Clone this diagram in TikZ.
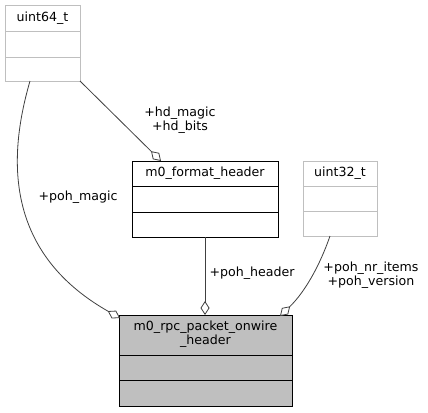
\documentclass[tikz,border=0pt]{standalone}
\usepackage{fontspec}
\setmainfont{DejaVu Sans}
\usetikzlibrary{arrows.meta}
\definecolor{edgec}{HTML}{404040}
\definecolor{lgray}{HTML}{BFBFBF}
\definecolor{mainfill}{HTML}{BFBFBF}
\begin{document}
\begin{tikzpicture}[x=1pt,y=-1pt,
  every node/.style={font=\fontsize{12.6}{14.2}\selectfont, inner sep=0pt},
  graybox/.style={draw=lgray, line width=0.9pt, fill=white, rectangle},
  blackbox/.style={draw=black, line width=0.9pt, fill=white, rectangle},
  mainbox/.style={draw=black, line width=0.9pt, fill=mainfill, rectangle},
  lbl/.style={align=center, text=black},
  agg/.style={draw=edgec, line width=0.8pt, -{Diamond[open, fill=white, length=14pt, width=9pt]}}
]
\useasboundingbox (0,0) rectangle (428,412);
\fill[white] (0,0) rectangle (428,412);

% uint64_t
\node[graybox, minimum width=75pt, minimum height=76pt] (u64) at (42.5,43) {};
\node (u64t) at (42.5,18) {uint64\_t};
\draw[lgray, line width=0.9pt] (5,31) -- (80,31) (5,57) -- (80,57);

% m0_format_header
\node[blackbox, minimum width=146pt, minimum height=76pt] (fmt) at (205,199) {};
\node (fmtt) at (205,173) {m0\_format\_header};
\draw[black, line width=0.9pt] (132,186) -- (278,186) (132,212) -- (278,212);

% uint32_t
\node[graybox, minimum width=74pt, minimum height=75pt] (u32) at (340,198.5) {};
\node (u32t) at (340,173) {uint32\_t};
\draw[lgray, line width=0.9pt] (303,186) -- (377,186) (303,211) -- (377,211);

% main
\node[mainbox, minimum width=173pt, minimum height=91pt] (main) at (205.5,360.5) {};
\node[align=center] (maint) at (205.5,334) {m0\_rpc\_packet\_onwire\\\_header};
\draw[black, line width=0.9pt] (119,355) -- (292,355) (119,380) -- (292,380);

% connector end points
\coordinate (a1) at (30,81);
\coordinate (a2) at (120,318);
\coordinate (b1) at (80,81);
\coordinate (b2) at (161,161);
\coordinate (c1) at (205,237);
\coordinate (c2) at (205,315);
\coordinate (d1) at (330,236);
\coordinate (d2) at (280,316);

% edges
\draw[agg] (a1) .. controls (10,150) and (0,250) .. (a2);
\draw[agg] (b1) -- (b2);
\draw[agg] (c1) -- (c2);
\draw[agg] (d1) .. controls (320,265) and (305,292) .. (d2);

% labels
\node[lbl] (lhd) at (180,120) {+hd\_magic\\+hd\_bits};
\node[lbl] (lpm) at (78,197) {+poh\_magic};
\node[lbl] (lph) at (252,273) {+poh\_header};
\node[lbl] (lpn) at (371,275) {+poh\_nr\_items\\+poh\_version};
\end{tikzpicture}
\end{document}
